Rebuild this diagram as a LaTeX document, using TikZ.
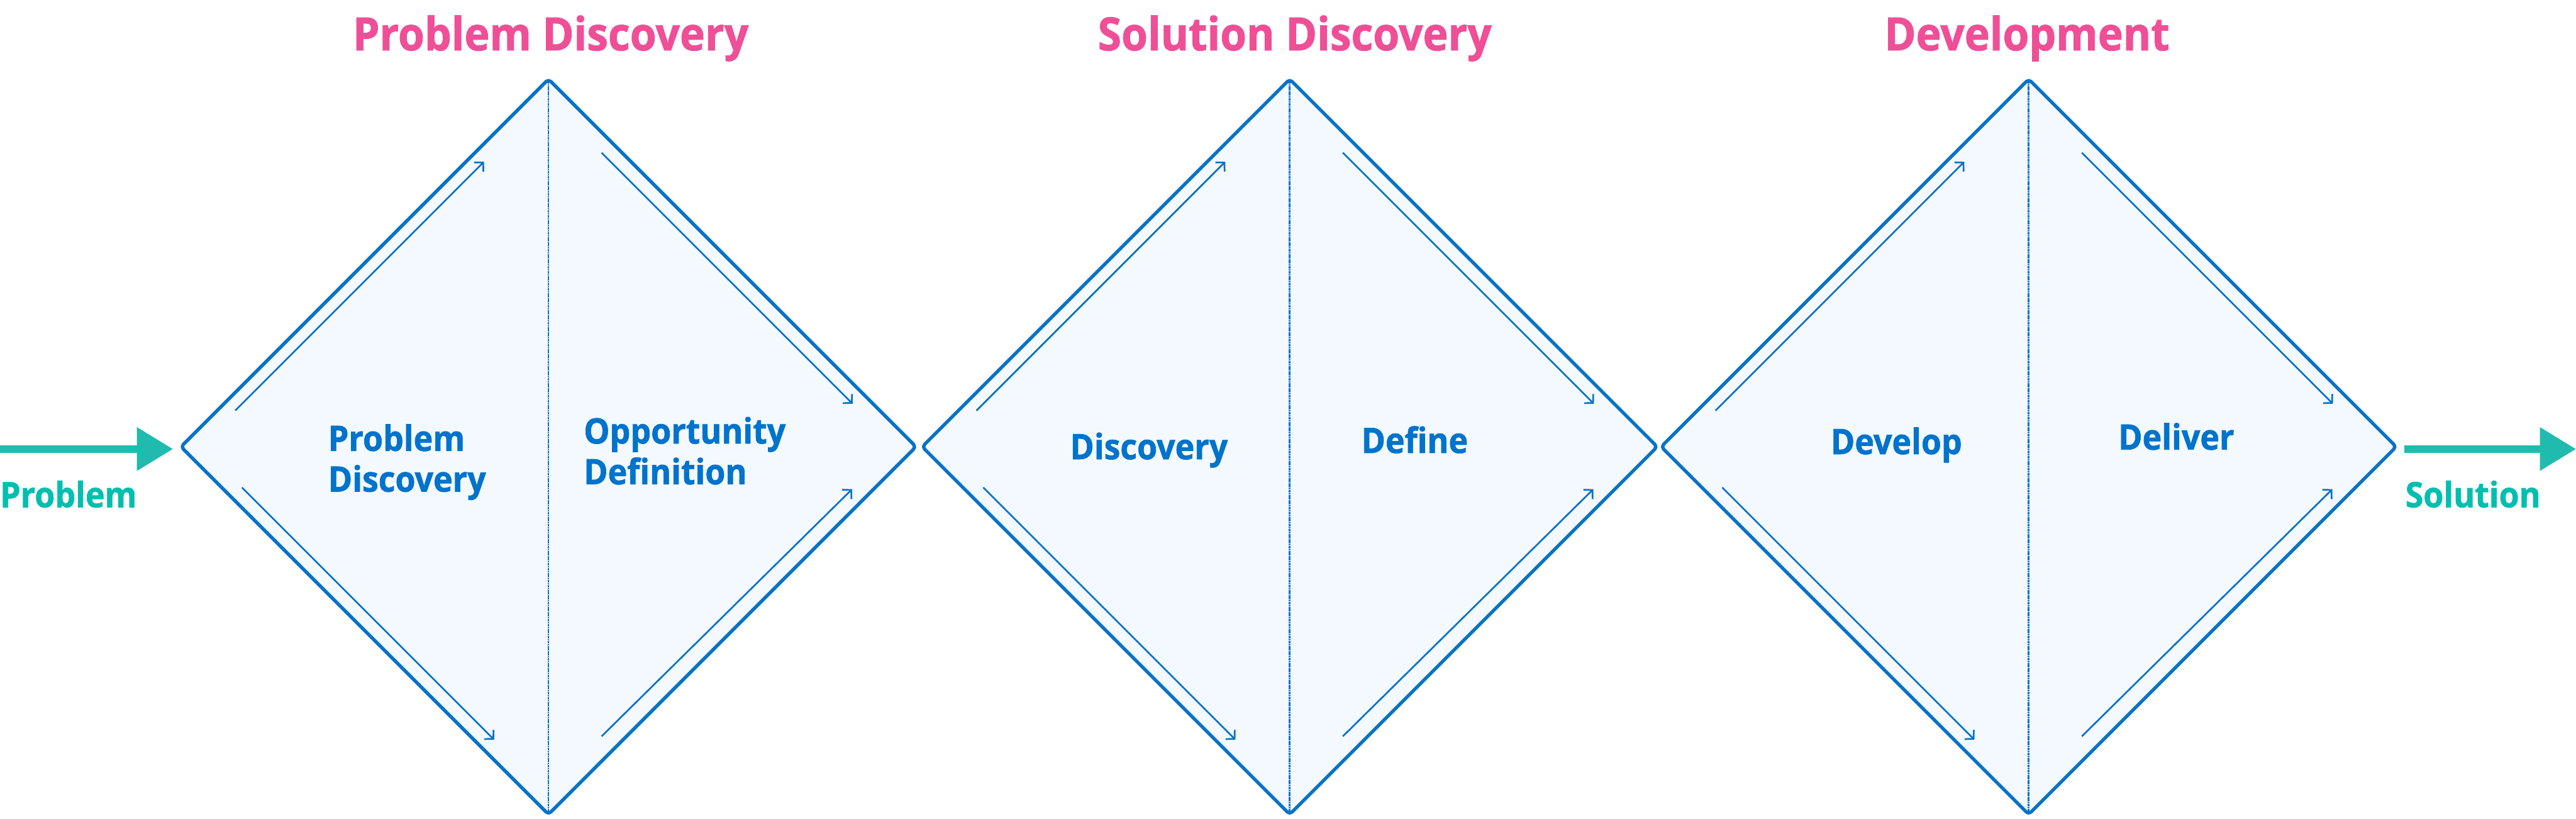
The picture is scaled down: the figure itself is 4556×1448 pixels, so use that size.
\documentclass[tikz,border=0pt]{standalone}
\usepackage{fontspec}
\setmainfont{Open Sans}[BoldFeatures={FakeStretch=0.93,FakeBold=1.2}]
\usetikzlibrary{arrows.meta,calc}
\definecolor{dblue}{HTML}{0872C8}
\definecolor{tblue}{HTML}{0073CC}
\definecolor{dfill}{HTML}{F3F9FE}
\definecolor{pinkt}{HTML}{EF4F97}
\definecolor{teala}{HTML}{20BBAE}
\definecolor{tealt}{HTML}{00BFAE}
\begin{document}
\begin{tikzpicture}[x=1pt,y=-1pt,
  diam/.style={draw=dblue,fill=dfill,line width=6pt,rounded corners=6pt,line join=round},
  midline/.style={draw=dblue,line width=3pt,dash pattern=on 2.4pt off 0.6pt},
  flow/.style={draw=dblue,line width=3pt,-{Straight Barb[length=11pt,width=23pt,line width=3pt]}},
  bigarrow/.style={draw=teala,line width=13pt,-{Triangle[length=64pt,width=74pt]}},
  title/.style={text=pinkt,font=\fontsize{81}{96}\selectfont\bfseries,inner sep=0pt,anchor=base},
  lab/.style={text=tblue,font=\fontsize{62}{72}\selectfont\bfseries,inner sep=0pt},
  ends/.style={text=tealt,font=\fontsize{62}{72}\selectfont\bfseries,inner sep=0pt,anchor=base west}]
\useasboundingbox (0,0) rectangle (4556,1448);
\fill[white] (0,0) rectangle (4556,1448);
% diamonds
\foreach \i/\c in {1/970,2/2281,3/3588}{
  \coordinate (d\i L) at ({\c-650},790);
  \coordinate (d\i T) at (\c,140);
  \coordinate (d\i R) at ({\c+650},790);
  \coordinate (d\i B) at (\c,1440);
  \path[diam] (d\i L) -- (d\i T) -- (d\i R) -- (d\i B) -- cycle;
  \path[midline] (d\i T) -- (d\i B);
  \coordinate (a\i s1) at ({\c-554},726);
  \coordinate (a\i e1) at ({\c-114},286);
  \coordinate (a\i s2) at ({\c-542},862);
  \coordinate (a\i e2) at ({\c-96},1308);
  \coordinate (a\i s3) at ({\c+94},270);
  \coordinate (a\i e3) at ({\c+538},714);
  \coordinate (a\i s4) at ({\c+94},1302);
  \coordinate (a\i e4) at ({\c+537},865);
  \draw[flow] (a\i s1) -- (a\i e1);
  \draw[flow] (a\i s2) -- (a\i e2);
  \draw[flow] (a\i s3) -- (a\i e3);
  \draw[flow] (a\i s4) -- (a\i e4);
}
% titles
\node[title] (t1) at (974,89) {Problem Discovery};
\node[title] (t2) at (2290,89) {Solution Discovery};
\node[title] (t3) at (3585,89) {Development};
% inner labels
\node[lab,align=left,anchor=north] (l1) at (720,750) {Problem\\Discovery};
\node[lab,align=left,anchor=north] (l2) at (1211,737) {Opportunity\\Definition};
\node[lab,anchor=base] (l3) at (2032,812) {Discovery};
\node[lab,anchor=base] (l4) at (2502,801) {Define};
\node[lab,anchor=base] (l5) at (3354,803) {Develop};
\node[lab,anchor=base] (l6) at (3849,795) {Deliver};
% in / out
\coordinate (inS) at (0,794);
\coordinate (outE) at (4556,794);
\draw[bigarrow] (inS) -- ([xshift=-14pt,yshift=-4pt]d1L);
\draw[bigarrow] ([xshift=14pt,yshift=-4pt]d3R) -- (outE);
\node[ends] (pin) at (0,897) {Problem};
\node[ends] (sout) at (4254,897) {Solution};
\end{tikzpicture}
\end{document}
